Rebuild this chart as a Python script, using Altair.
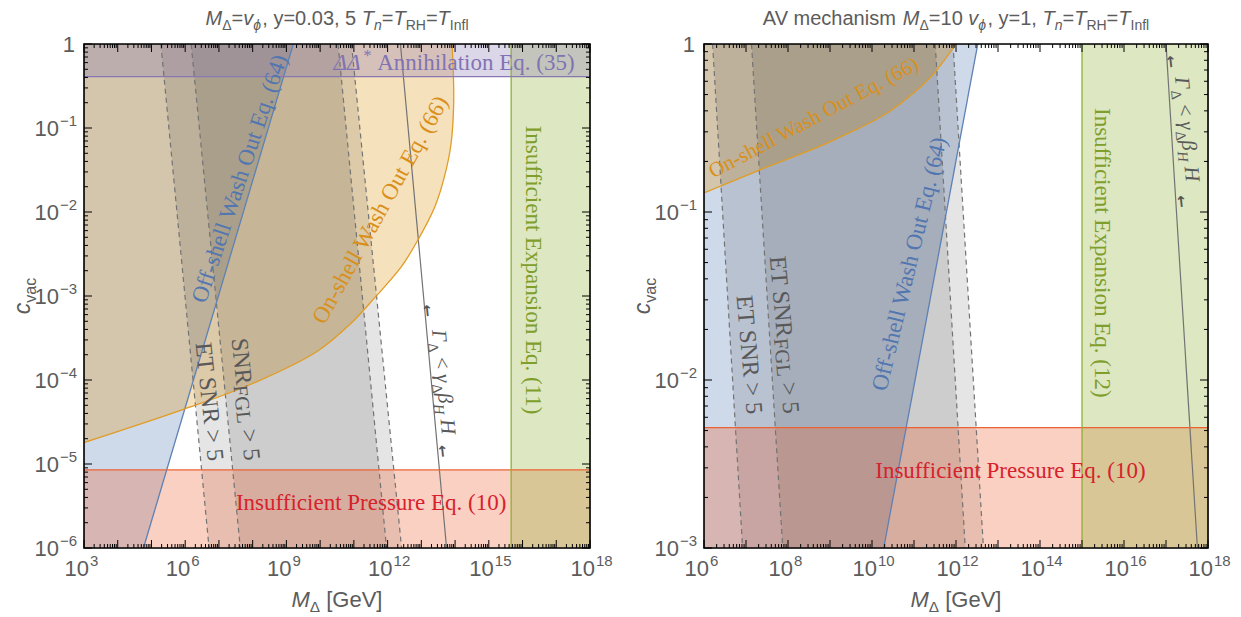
import altair as alt
import pandas as pd

# ---------------- data ----------------
# Left panel
L_XDOMAIN = [1e3, 1e18]
L_YDOMAIN = [1e-6, 1.0]
L_XLABELS = [1e3, 1e6, 1e9, 1e12, 1e15, 1e18]
L_XEXP = ["3", "6", "9", "12", "15", "18"]
L_YLABELS = [1e-6, 1e-5, 1e-4, 1e-3, 1e-2, 1e-1]
L_YEXP = ["\u22126", "\u22125", "\u22124", "\u22123", "\u22122", "\u22121"]
L_OFF_X = [1e3, 5.8e4, 1.6e9]
L_OFF_Y = [1e-6, 1e-6, 1.0]
L_ON_X = [1e3, 9.3e5, 8.9e7, 8.3e9, 8.1e10, 4.1e11, 2.5e12, 7.8e12, 2.5e13, 4.8e13, 7.6e13, 9.1e13, 8.7e13, 8.1e13]
L_ON_Y = [1.8e-5, 4.5e-5, 8.9e-5, 2.2e-4, 4.7e-4, 9.5e-4, 2.2e-3, 4.6e-3, 1.15e-2, 2.6e-2, 6.5e-2, 0.195, 0.575, 1.0]
L_ANNIH_Y = 0.41
L_EXPAND_X = 4.6e15
L_PRESS_Y = 8.5e-6
L_ET_BOTTOM = [5.1e6, 2.6e12]
L_ET_TOP = [1.9e5, 8.5e10]
L_FGL_BOTTOM = [4.3e7, 9.3e11]
L_FGL_TOP = [1.5e6, 3.4e10]
L_GAMMA_X = [5.6e13, 2.4e12]   # at bottom, at top

# Right panel
R_XDOMAIN = [1e6, 1e18]
R_YDOMAIN = [1e-3, 1.0]
R_XLABELS = [1e6, 1e8, 1e10, 1e12, 1e14, 1e16, 1e18]
R_XEXP = ["6", "8", "10", "12", "14", "16", "18"]
R_YLABELS = [1e-3, 1e-2, 1e-1]
R_YEXP = ["\u22123", "\u22122", "\u22121"]
R_OFF_X = [1e6, 1.9e10, 3.3e12]
R_OFF_Y = [1e-3, 1e-3, 1.0]
R_ON_X = [1e6, 3.3e7, 1.26e9, 4.9e10, 3.0e11, 1e12]
R_ON_Y = [0.13, 0.186, 0.269, 0.444, 0.668, 1.0]
R_EXPAND_X = 1e15
R_PRESS_Y = 5.2e-3
R_ET_BOTTOM = [8.3e6, 4.5e12]
R_ET_TOP = [1.6e6, 8.5e11]
R_FGL_BOTTOM = [7.5e7, 1.66e12]
R_FGL_TOP = [1.35e7, 3.2e11]
R_GAMMA_X = [5.6e17, 1e17]

# ---------------- styles ----------------
SANS = "Liberation Sans"
SERIF = "Liberation Serif"
AXGRAY = "#5c5c5c"
BLUE, ORANGE, GREEN, RED, PURPLE = "#5E81B5", "#E19C24", "#8FB032", "#EB6235", "#8778B3"
TBLUE, TORANGE, TGREEN, TRED, TPURPLE, TGRAY = "#5276b0", "#d8901a", "#7f9e2c", "#d7222c", "#8173b3", "#595959"
H = 504
ONE = pd.DataFrame({"k": [0]})

SERIF_W = {" ": .25, "(": .333, ")": .333, "*": .5, ".": .25, "<": .564, ">": .564, "=": .564, "-": .333,
           "A": .722, "E": .611, "F": .556, "G": .722, "H": .722, "I": .333, "L": .611, "N": .722, "O": .722,
           "P": .556, "R": .667, "S": .556, "T": .611, "W": .944, "a": .444, "c": .444, "e": .444, "f": .333,
           "h": .5, "i": .278, "l": .278, "n": .5, "o": .5, "p": .5, "q": .5, "r": .333, "s": .389, "t": .278,
           "u": .5, "x": .5, "\u0393": .61, "\u0394": .65, "\u03b3": .45, "\u03b2": .5}
SANS_W = {" ": .278, ",": .278, ".": .278, "=": .584, "[": .278, "]": .278, "A": .667, "V": .667, "M": .833,
          "T": .611, "G": .778, "R": .722, "H": .722, "I": .278, "a": .556, "c": .5, "e": .556, "f": .278,
          "h": .556, "i": .222, "l": .222, "m": .833, "n": .556, "s": .5, "v": .5, "y": .5, "\u0394": .668,
          "\u03d5": .65}


def textw(s, font):
    tbl = SERIF_W if font == SERIF else SANS_W
    d = 0.5 if font == SERIF else 0.556
    return sum(tbl.get(c, d) for c in s)


def rich(base, enc, pieces, size, font, color, angle=0.0, align="center"):
    """pieces: (text, scale, vertical shift in em, italic); base: chart data; enc: position encodings"""
    widths = [textw(t, font) * size * sc for t, sc, sh, it in pieces]
    total = sum(widths)
    cur = {"left": 0.0, "center": -total / 2, "right": -total}[align]
    out = []
    for (t, sc, sh, it), w in zip(pieces, widths):
        lead = len(t) - len(t.lstrip(" "))
        txt = t.strip(" ")
        if txt:
            dx = cur + textw(" " * lead, font) * size * sc
            out.append(alt.Chart(base).mark_text(
                text=txt, font=font, fontSize=round(size * sc, 2), fontStyle="italic" if it else "normal",
                color=color, angle=round(angle % 360, 2), align="left", baseline="alphabetic",
                dx=round(dx, 2), dy=round((0.35 + sh) * size, 2)).encode(**enc))
        cur += w
    return out


def log_ticks(lo, hi):
    major = [10.0 ** k for k in range(lo, hi + 1)]
    minor = [m * 10.0 ** k for k in range(lo, hi) for m in range(2, 10)]
    return major, minor


def build_panel(P):
    W = P["width"]
    XD, YD = P["xdom"], P["ydom"]
    xs = alt.Scale(type="log", domain=XD, nice=False)
    ys = alt.Scale(type="log", domain=YD, nice=False)

    def X(f):
        return alt.X(f, type="quantitative", scale=xs, axis=None)

    def Y(f):
        return alt.Y(f, type="quantitative", scale=ys, axis=None)

    L = []
    # ---- filled regions ----
    off = pd.DataFrame({"x": P["off_x"], "y": P["off_y"]})
    off["top"] = YD[1]
    L.append(alt.Chart(off).mark_area(fill=BLUE, fillOpacity=0.3, clip=True)
             .encode(x=X("x"), y=Y("y"), y2=alt.Y2("top")))
    on = pd.DataFrame({"x": P["on_x"], "y": P["on_y"]})
    on["i"] = range(len(on))
    on["x0"] = XD[0]
    on["top"] = YD[1]
    if P["on_horizontal"]:
        L.append(alt.Chart(on).mark_area(orient="horizontal", interpolate="catmull-rom", fill=ORANGE,
                                         fillOpacity=0.3, clip=True)
                 .encode(y=Y("y"), x=X("x0"), x2=alt.X2("x")))
        smooth = "catmull-rom"
    else:
        L.append(alt.Chart(on).mark_area(interpolate="monotone", fill=ORANGE, fillOpacity=0.3, clip=True)
                 .encode(x=X("x"), y=Y("y"), y2=alt.Y2("top")))
        smooth = "monotone"
    for bot, top in ((P["et_bot"], P["et_top"]), (P["fgl_bot"], P["fgl_top"])):
        d = pd.DataFrame({"y": [YD[0], YD[1]], "xa": [bot[0], top[0]], "xb": [bot[1], top[1]]})
        L.append(alt.Chart(d).mark_area(orient="horizontal", fill="black", fillOpacity=0.1, clip=True)
                 .encode(y=Y("y"), x=X("xa"), x2=alt.X2("xb")))
    rects = [(XD[0], XD[1], YD[0], P["press_y"], RED), (P["expand_x"], XD[1], YD[0], YD[1], GREEN)]
    if P.get("annih_y"):
        rects.append((XD[0], XD[1], P["annih_y"], YD[1], PURPLE))
    for x1, x2, y1, y2, col in rects:
        d = pd.DataFrame({"x": [x1], "x2": [x2], "y": [y1], "y2": [y2]})
        L.append(alt.Chart(d).mark_rect(fill=col, fillOpacity=0.3)
                 .encode(x=X("x"), x2=alt.X2("x2"), y=Y("y"), y2=alt.Y2("y2")))

    # ---- lines ----
    rows = []
    pairs = [(P["et_bot"][0], P["et_top"][0]), (P["fgl_bot"][0], P["fgl_top"][0]),
             (P["fgl_bot"][1], P["fgl_top"][1]), (P["et_bot"][1], P["et_top"][1])]
    for j, (b, t) in enumerate(pairs):
        rows += [{"id": j, "x": b, "y": YD[0]}, {"id": j, "x": t, "y": YD[1]}]
    L.append(alt.Chart(pd.DataFrame(rows)).mark_line(color="#737373", strokeDash=[5, 4], strokeWidth=1.2, clip=True)
             .encode(x=X("x"), y=Y("y"), detail="id:N"))
    g = pd.DataFrame({"x": P["gamma_x"], "y": [YD[0], YD[1]]})
    L.append(alt.Chart(g).mark_line(color="#737373", strokeWidth=1.2, clip=True).encode(x=X("x"), y=Y("y")))
    L.append(alt.Chart(off.iloc[1:].reset_index(drop=True)).mark_line(color=BLUE, strokeWidth=1.3, clip=True)
             .encode(x=X("x"), y=Y("y")))
    L.append(alt.Chart(on).mark_line(color=ORANGE, strokeWidth=1.3, clip=True, interpolate=smooth)
             .encode(x=X("x"), y=Y("y"), order="i:Q"))
    L.append(alt.Chart(pd.DataFrame({"y": [P["press_y"]]})).mark_rule(color=RED, strokeWidth=1.3)
             .encode(y=Y("y")))
    L.append(alt.Chart(pd.DataFrame({"x": [P["expand_x"]]})).mark_rule(color=GREEN, strokeWidth=1.3)
             .encode(x=X("x")))
    if P.get("annih_y"):
        L.append(alt.Chart(pd.DataFrame({"y": [P["annih_y"]]})).mark_rule(color=PURPLE, strokeWidth=1.3)
                 .encode(y=Y("y")))

    # ---- inward ticks ----
    xmaj, xmin = log_ticks(*P["xdec"])
    ymaj, ymin = log_ticks(*P["ydec"])
    for vals, ln in ((xmaj, 8), (xmin, 4)):
        d = pd.DataFrame({"v": vals})
        L.append(alt.Chart(d).mark_rule(color="black", strokeWidth=1)
                 .encode(x=X("v"), y=alt.value(H), y2=alt.value(H - ln)))
        L.append(alt.Chart(d).mark_rule(color="black", strokeWidth=1)
                 .encode(x=X("v"), y=alt.value(0), y2=alt.value(ln)))
    for vals, ln in ((ymaj, 8), (ymin, 4)):
        d = pd.DataFrame({"v": vals})
        L.append(alt.Chart(d).mark_rule(color="black", strokeWidth=1)
                 .encode(y=Y("v"), x=alt.value(0), x2=alt.value(ln)))
        L.append(alt.Chart(d).mark_rule(color="black", strokeWidth=1)
                 .encode(y=Y("v"), x=alt.value(W), x2=alt.value(W - ln)))
    L.append(alt.Chart(ONE).mark_rect(fillOpacity=0, stroke="black", strokeWidth=1.6)
             .encode(x=alt.value(0), x2=alt.value(W), y=alt.value(0), y2=alt.value(H)))

    # ---- tick labels ----
    xl = pd.DataFrame({"v": P["xlab"], "e": P["xexp"]})
    L.append(alt.Chart(xl).mark_text(text="10", font=SANS, fontSize=22, color=AXGRAY, align="right",
                                     baseline="alphabetic", dx=5).encode(x=X("v"), y=alt.value(H + 28)))
    L.append(alt.Chart(xl).mark_text(font=SANS, fontSize=15, color=AXGRAY, align="left",
                                     baseline="alphabetic", dx=6).encode(x=X("v"), y=alt.value(H + 18), text="e:N"))
    yl = pd.DataFrame({"v": P["ylab"], "e": P["yexp"]})
    L.append(alt.Chart(yl).mark_text(text="10", font=SANS, fontSize=22, color=AXGRAY, align="right",
                                     baseline="alphabetic", dy=8).encode(y=Y("v"), x=alt.value(-25)))
    L.append(alt.Chart(yl).mark_text(font=SANS, fontSize=15, color=AXGRAY, align="right",
                                     baseline="alphabetic", dy=-2).encode(y=Y("v"), x=alt.value(-7), text="e:N"))
    L.append(alt.Chart(pd.DataFrame({"v": [YD[1]]})).mark_text(
        text="1", font=SANS, fontSize=22, color=AXGRAY, align="right", baseline="alphabetic", dy=8)
        .encode(y=Y("v"), x=alt.value(-9)))

    # ---- titles ----
    L += rich(ONE, {"x": alt.value(W / 2), "y": alt.value(-26)}, P["title"], 20, SANS, AXGRAY)
    L += rich(ONE, {"x": alt.value(W / 2), "y": alt.value(H + 51)},
              [("M", 1, 0, True), ("\u0394", 0.7, 0.25, False), (" [GeV]", 1, 0, False)], 22, SANS, AXGRAY)
    L += rich(ONE, {"x": alt.value(-62), "y": alt.value(H / 2)},
              [("c", 1, 0, True), ("vac", 0.7, 0.25, False)], 23, SANS, AXGRAY, angle=270)

    # ---- annotations ----
    for (x, y, pieces, size, color, angle, align) in P["labels"]:
        pos = pd.DataFrame({"x": [x], "y": [y]})
        L += rich(pos, {"x": X("x"), "y": Y("y")}, pieces, size, SERIF, color, angle, align)
    arr = pd.DataFrame({"x": [a[0] for a in P["arrows"]], "y": [a[1] for a in P["arrows"]]})
    L.append(alt.Chart(arr).mark_text(text="\u2191", font="DejaVu Sans", fontSize=15, fontWeight="bold",
                                      color="#555555", angle=354, baseline="middle", align="center")
             .encode(x=X("x"), y=Y("y")))
    return alt.layer(*L).properties(width=W, height=H)


GAMMA_PIECES = [("\u0393", 1, 0, True), ("\u0394", 0.7, 0.25, False), (" < ", 1, 0, False),
                ("\u03b3", 1, 0, True), ("\u0394", 0.7, 0.25, False), ("\u03b2", 1, 0, True),
                ("H", 0.7, 0.25, True), (" ", 1, 0, False), ("H", 1, 0, True)]
FGL_SCALE = 0.85

left = build_panel({
    "width": 506, "xdom": L_XDOMAIN, "ydom": L_YDOMAIN, "xdec": (3, 18), "ydec": (-6, 0),
    "xlab": L_XLABELS, "xexp": L_XEXP, "ylab": L_YLABELS, "yexp": L_YEXP,
    "off_x": L_OFF_X, "off_y": L_OFF_Y, "on_x": L_ON_X, "on_y": L_ON_Y, "on_horizontal": True,
    "annih_y": L_ANNIH_Y, "expand_x": L_EXPAND_X, "press_y": L_PRESS_Y,
    "et_bot": L_ET_BOTTOM, "et_top": L_ET_TOP, "fgl_bot": L_FGL_BOTTOM, "fgl_top": L_FGL_TOP,
    "gamma_x": L_GAMMA_X,
    "title": [("M", 1, 0, True), ("\u0394", 0.7, 0.25, False), ("=", 1, 0, False), ("v", 1, 0, True),
              ("\u03d5", 0.7, 0.25, True), (", y=0.03, 5 ", 1, 0, False), ("T", 1, 0, True),
              ("n", 0.7, 0.25, True), ("=", 1, 0, False), ("T", 1, 0, True), ("RH", 0.7, 0.25, False),
              ("=", 1, 0, False), ("T", 1, 0, True), ("Infl", 0.7, 0.25, False)],
    "labels": [
        (3.5e17, 0.61, [("\u0394\u0394", 1, 0, True), ("*", 0.7, -0.4, False),
                        (" Annihilation Eq. (35)", 1, 0, False)], 23, TPURPLE, 0, "right"),
        (4.0e7, 0.026, [("Off-shell Wash Out Eq. (64)", 1, 0, False)], 23, TBLUE, -71.6, "center"),
        (6.0e11, 0.011, [("On-shell Wash Out Eq. (66)", 1, 0, False)], 23, TORANGE, -61, "center"),
        (2.2e16, 2.0e-3, [("Insufficient Expansion Eq. (11)", 1, 0, False)], 23, TGREEN, 90, "center"),
        (3.3e11, 3.5e-6, [("Insufficient Pressure Eq. (10)", 1, 0, False)], 23, TRED, 0, "center"),
        (5.5e6, 5.5e-5, [("ET SNR > 5", 1, 0, False)], 24, TGRAY, 84, "center"),
        (6.5e7, 5.9e-5, [("SNR", 1, 0, False), ("FGL", FGL_SCALE, 0.12, False), (" > 5", 1, 0, False)],
         24, TGRAY, 84, "center"),
        (4.8e13, 9.5e-5, GAMMA_PIECES, 21, TGRAY, 84.6, "center"),
    ],
    "arrows": [(1.5e13, 6.6e-4), (4.2e13, 1.4e-5)],
})

right = build_panel({
    "width": 504, "xdom": R_XDOMAIN, "ydom": R_YDOMAIN, "xdec": (6, 18), "ydec": (-3, 0),
    "xlab": R_XLABELS, "xexp": R_XEXP, "ylab": R_YLABELS, "yexp": R_YEXP,
    "off_x": R_OFF_X, "off_y": R_OFF_Y, "on_x": R_ON_X, "on_y": R_ON_Y, "on_horizontal": False,
    "annih_y": None, "expand_x": R_EXPAND_X, "press_y": R_PRESS_Y,
    "et_bot": R_ET_BOTTOM, "et_top": R_ET_TOP, "fgl_bot": R_FGL_BOTTOM, "fgl_top": R_FGL_TOP,
    "gamma_x": R_GAMMA_X,
    "title": [("AV mechanism ", 1, 0, False), ("M", 1, 0, True), ("\u0394", 0.7, 0.25, False),
              ("=10 ", 1, 0, False), ("v", 1, 0, True), ("\u03d5", 0.7, 0.25, True),
              (", y=1, ", 1, 0, False), ("T", 1, 0, True), ("n", 0.7, 0.25, True), ("=", 1, 0, False),
              ("T", 1, 0, True), ("RH", 0.7, 0.25, False), ("=", 1, 0, False), ("T", 1, 0, True),
              ("Infl", 0.7, 0.25, False)],
    "labels": [
        (4.2e8, 0.37, [("On-shell Wash Out Eq. (66)", 1, 0, False)], 21, TORANGE, -28, "center"),
        (7.6e10, 0.050, [("Off-shell Wash Out Eq. (64)", 1, 0, False)], 23, TBLUE, -76.5, "center"),
        (8.5e7, 0.0186, [("ET SNR", 1, 0, False), ("FGL", FGL_SCALE, 0.12, False), (" > 5", 1, 0, False)],
         24, TGRAY, 85, "center"),
        (1.25e7, 0.0141, [("ET SNR > 5", 1, 0, False)], 24, TGRAY, 85, "center"),
        (3.2e15, 0.057, [("Insufficient Expansion Eq. (12)", 1, 0, False)], 23, TGREEN, 90, "center"),
        (3.3e17, 0.312, GAMMA_PIECES, 21, TGRAY, 84, "center"),
        (2.0e13, 2.9e-3, [("Insufficient Pressure Eq. (10)", 1, 0, False)], 23, TRED, 0, "center"),
    ],
    "arrows": [(1.3e17, 0.78), (2.3e17, 0.115)],
})

chart = (alt.hconcat(left, right, spacing=17)
         .properties(padding={"left": 3, "top": 0, "right": 0, "bottom": 0})
         .configure_view(stroke=None)
         .configure(background="white"))

chart.save("out.html", embed_options={"renderer": "svg", "actions": False})
